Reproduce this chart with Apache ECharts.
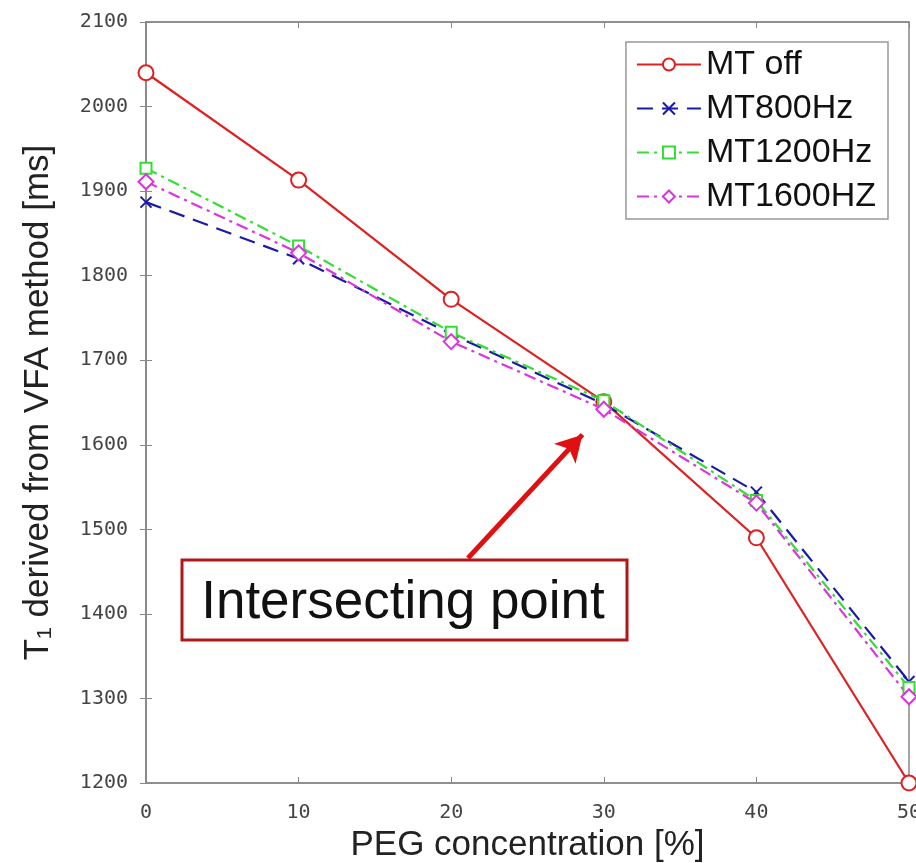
<!DOCTYPE html>
<html>
<head>
<meta charset="utf-8">
<script src="https://cdn.jsdelivr.net/npm/echarts@6/dist/echarts.min.js"></script>
<style>
  html, body { margin: 0; padding: 0; background: #fff; }
  #chart { width: 916px; height: 863px; }
</style>
</head>
<body>
<div id="chart"></div>
<script>
// PEG concentration [%]
const pegConc = [0, 10, 20, 30, 40, 50];
// T1 values [ms]
const mtOff = [2040, 1913, 1772, 1651, 1490, 1200];
const mt800 = [1887, 1820, 1731, 1648, 1544, 1320];
const mt1200 = [1927, 1835, 1733, 1652, 1534, 1313];
const mt1600 = [1911, 1827, 1722, 1642, 1531, 1302];
const seriesNames = ['MT off', 'MT800Hz', 'MT1200Hz', 'MT1600HZ'];
// arrow of the annotation, in data units
const arrowFrom = [21.1, 1466];
const arrowTo = [28.6, 1612];

const chart = echarts.init(document.getElementById('chart'));

const tickFont = { fontFamily: 'DejaVu Sans Mono', fontSize: 20, color: '#444' };
const crossPath = 'path://M0,0L10,10M10,0L0,10';

function pairs(vals) {
  return pegConc.map((x, i) => [x, vals[i]]);
}

function mkSeries(name, vals, color, dash, symbol, size) {
  return {
    name: name,
    type: 'line',
    data: pairs(vals),
    symbol: symbol,
    symbolSize: size,
    showAllSymbol: true,
    lineStyle: { color: color, width: 2.2, type: dash },
    itemStyle: { color: color, borderColor: color, borderWidth: 2 },
    z: name === 'MT off' ? 2 : 3
  };
}

const series = [
  mkSeries(seriesNames[0], mtOff, '#e02020', 'solid', 'emptyCircle', 15),
  mkSeries(seriesNames[1], mt800, '#1a1aa8', [16, 9], crossPath, 11),
  mkSeries(seriesNames[2], mt1200, '#33dd33', [12, 5, 3, 5], 'emptyRect', 11),
  mkSeries(seriesNames[3], mt1600, '#dd33dd', [12, 5, 3, 5], 'emptyDiamond', 15)
];

// annotation arrow
series[0].markLine = {
  silent: true,
  symbol: ['none', 'arrow'],
  symbolSize: [22, 26],
  label: { show: false },
  lineStyle: { color: '#e01010', width: 5, type: 'solid' },
  data: [[{ coord: arrowFrom }, { coord: arrowTo }]]
};

chart.setOption({
  animation: false,
  backgroundColor: '#fff',
  grid: {
    left: 146, right: 7, top: 22, bottom: 80,
    outerBoundsMode: 'none',
    show: true, borderColor: '#888', borderWidth: 1.5
  },
  legend: {
    data: seriesNames,
    orient: 'vertical',
    right: 28,
    top: 42,
    padding: [5, 12, 5, 10],
    itemGap: 9,
    itemWidth: 64,
    itemHeight: 15,
    backgroundColor: '#fff',
    borderColor: '#999',
    borderWidth: 1.5,
    textStyle: { fontFamily: 'Liberation Sans', fontSize: 34, lineHeight: 35, color: '#111' }
  },
  xAxis: [
    {
      type: 'value', min: 0, max: 50, interval: 10,
      name: 'PEG concentration [%]', nameLocation: 'middle', nameGap: 44,
      nameTextStyle: { fontFamily: 'Liberation Sans', fontSize: 35, color: '#222' },
      axisLine: { lineStyle: { color: '#888', width: 1.5 } },
      axisTick: { inside: true, length: 6, lineStyle: { color: '#888' } },
      axisLabel: Object.assign({ margin: 20, formatter: v => String(v) }, tickFont),
      splitLine: { show: false }
    },
    {
      type: 'value', min: 0, max: 50, interval: 10, position: 'top',
      axisLine: { lineStyle: { color: '#888', width: 1.5 } },
      axisTick: { inside: true, length: 6, lineStyle: { color: '#888' } },
      axisLabel: { show: false }, splitLine: { show: false }
    }
  ],
  yAxis: [
    {
      type: 'value', min: 1200, max: 2100, interval: 100,
      name: 'T\u2081 derived from VFA method [ms]', nameLocation: 'middle', nameGap: 90,
      nameTextStyle: { fontFamily: 'Liberation Sans', fontSize: 35, color: '#222' },
      axisLine: { show: true, lineStyle: { color: '#888', width: 1.5 } },
      axisTick: { show: true, inside: true, length: 6, lineStyle: { color: '#888' } },
      axisLabel: Object.assign({ margin: 18, formatter: v => String(v) }, tickFont),
      splitLine: { show: false }
    },
    {
      type: 'value', min: 1200, max: 2100, interval: 100, position: 'right',
      axisLine: { show: true, lineStyle: { color: '#888', width: 1.5 } },
      axisTick: { show: true, inside: true, length: 6, lineStyle: { color: '#888' } },
      axisLabel: { show: false }, splitLine: { show: false }
    }
  ],
  graphic: [
    {
      type: 'rect',
      shape: { x: 182, y: 560, width: 445, height: 80 },
      style: { fill: '#fff', stroke: '#b01818', lineWidth: 3 },
      z: 10
    },
    {
      type: 'text',
      x: 403, y: 603,
      style: {
        text: 'Intersecting point',
        fontFamily: 'Liberation Sans', fontSize: 53, fill: '#111',
        textAlign: 'center', textVerticalAlign: 'middle'
      },
      z: 11
    }
  ],
  series: series
});
</script>
</body>
</html>
